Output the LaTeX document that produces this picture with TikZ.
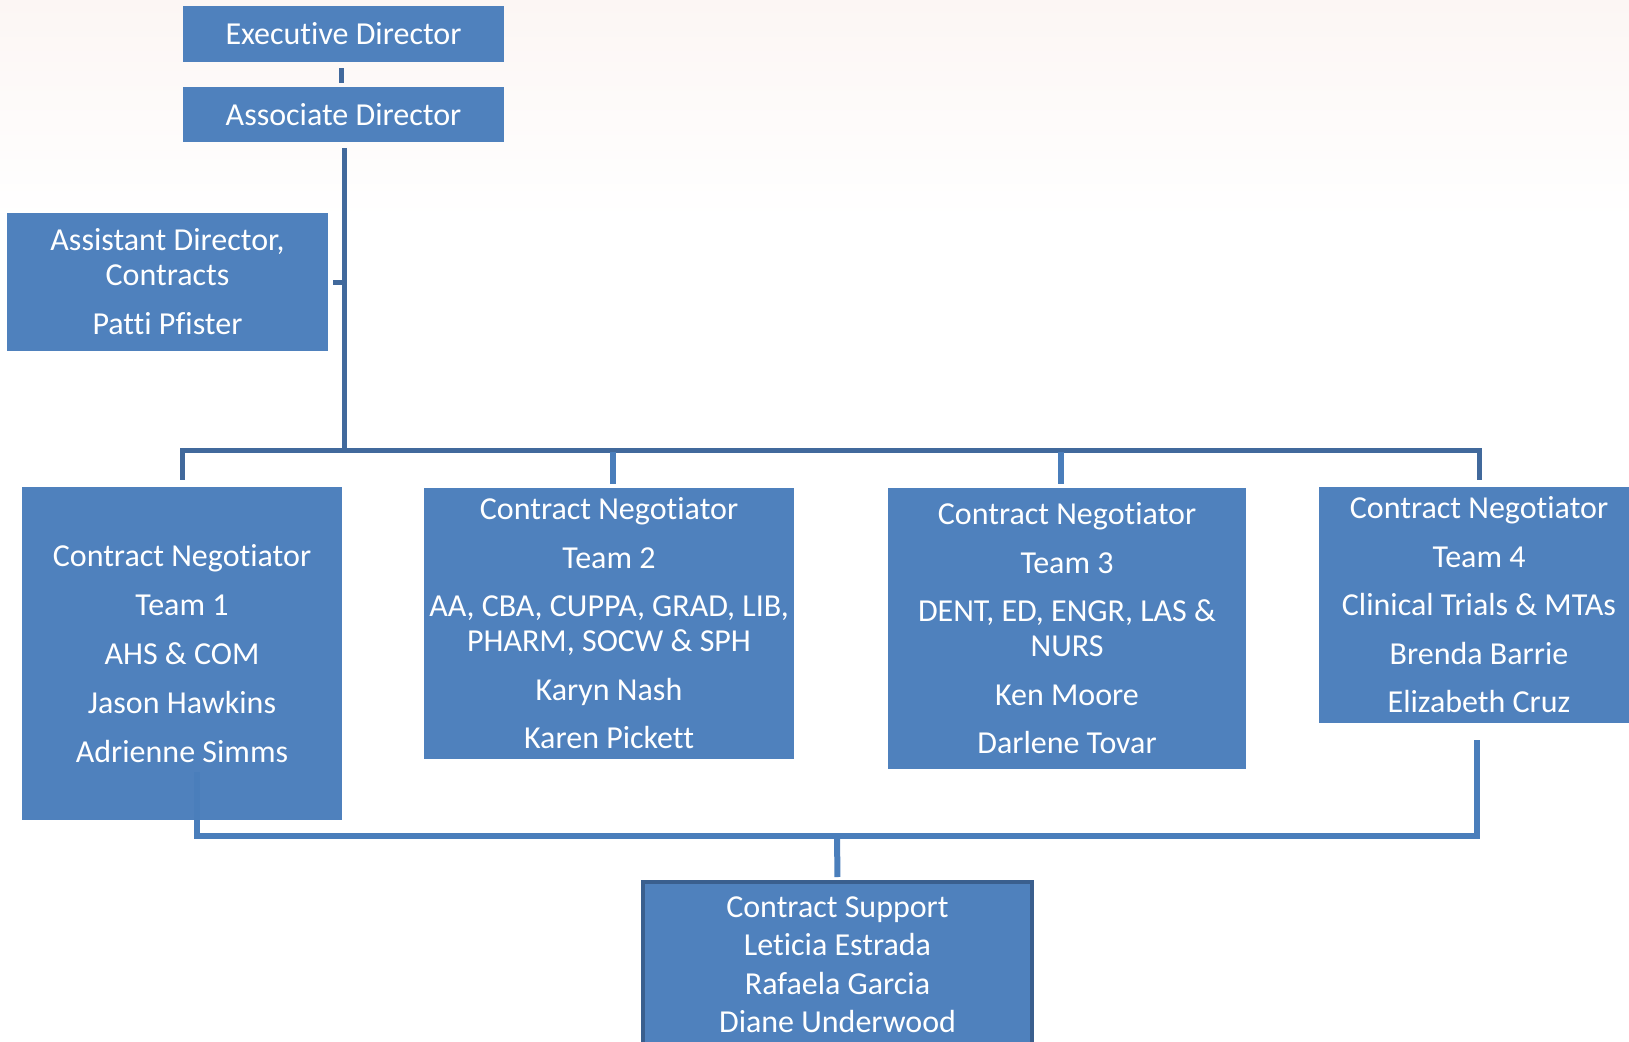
\documentclass[tikz,border=0pt]{standalone}
\usepackage{fontspec}
\setmainfont{Carlito}[Ligatures=NoCommon]
\definecolor{boxblue}{HTML}{4F81BD}
\definecolor{linkdark}{HTML}{41699C}
\definecolor{linklight}{HTML}{4A7EBB}
\definecolor{edgedark}{HTML}{3A5F8E}
\definecolor{bgtint}{HTML}{FCF6F4}
\begin{document}
\begin{tikzpicture}[x=1pt,y=-1pt,
  box/.style={fill=boxblue, text=white, align=center, inner sep=0pt,
    font=\fontsize{32}{35}\selectfont},
  uplink/.style={draw=linkdark, line width=5pt},
  droplink/.style={draw=linklight, line width=6pt},
  lowlink/.style={draw=linklight, line width=6pt},
]
% page and faint top tint
\useasboundingbox (0,0) rectangle (1629,1041);
\fill[white] (0,0) rectangle (1629,1041);
\shade[top color=bgtint, bottom color=white] (0,0) rectangle (1629,220);

% junction points of the connector network
\coordinate (bus) at (344,450);
\coordinate (d2) at (613,450);
\coordinate (d3) at (1061,450);
\coordinate (b1) at (196.5,772);
\coordinate (b4) at (1476.5,740);
\coordinate (sbus) at (837,835.5);

% boxes
\node[box, minimum width=321pt, minimum height=56pt] (ed) at (343.5,34) {Executive Director};
\node[box, minimum width=321pt, minimum height=55pt] (ad) at (343.5,114.5) {Associate Director};
\node[box, minimum width=321pt, minimum height=138pt] (asst) at (167.5,282)
  {Assistant Director,\\Contracts\\[14pt]Patti Pfister};
\node[box, minimum width=320pt, minimum height=333pt] (t1) at (182,653.5)
  {Contract Negotiator\\[13.8pt]Team 1\\[13.8pt]AHS \& COM\\[13.8pt]Jason Hawkins\\[13.8pt]Adrienne Simms};
\node[box, minimum width=370pt, minimum height=271pt] (t2) at (609,623.5)
  {Contract Negotiator\\[13.5pt]Team 2\\[13.5pt]AA, CBA, CUPPA, GRAD, LIB,\\PHARM, SOCW \& SPH\\[13.5pt]Karyn Nash\\[13.5pt]Karen Pickett};
\node[box, minimum width=358pt, minimum height=281pt] (t3) at (1067,628.5)
  {Contract Negotiator\\[13.5pt]Team 3\\[13.5pt]DENT, ED, ENGR, LAS \&\\NURS\\[13.5pt]Ken Moore\\[13.5pt]Darlene Tovar};
\node[box, minimum width=320pt, minimum height=236pt] (t4) at (1479,605)
  {Contract Negotiator\\[13.5pt]Team 4\\[13.5pt]Clinical Trials \& MTAs\\[13.5pt]Brenda Barrie\\[13.5pt]Elizabeth Cruz};
\node[box, draw=edgedark, line width=4pt, minimum width=389pt, minimum height=165pt,
  font=\fontsize{32}{38.5}\selectfont] (sup) at (837.5,964.5)
  {Contract Support\\Leticia Estrada\\Rafaela Garcia\\Diane Underwood};

% upper connectors
\draw[uplink, shorten <=6pt, shorten >=4pt] (ed.south -| 341,0) -- (ad.north -| 341,0);
\draw[uplink, shorten <=6pt] (ad.south -| bus) -- (bus);
\draw[uplink, shorten <=5pt] (asst.east) -- (asst.east -| bus);
\draw[uplink, shorten >=7pt] (bus) -| (t1.north);
\draw[uplink, shorten >=7pt] (bus) -| (t4.north);
\draw[droplink, shorten <=2pt, shorten >=4pt] (d2) -- (d2 |- t2.north);
\draw[droplink, shorten <=2pt, shorten >=4pt] (d3) -- (d3 |- t3.north);

% lower connectors
\draw[lowlink] (b1) |- (sbus) -| (b4);
\draw[lowlink, shorten >=3pt] (sbus) -- (sup.north);
\end{tikzpicture}
\end{document}
